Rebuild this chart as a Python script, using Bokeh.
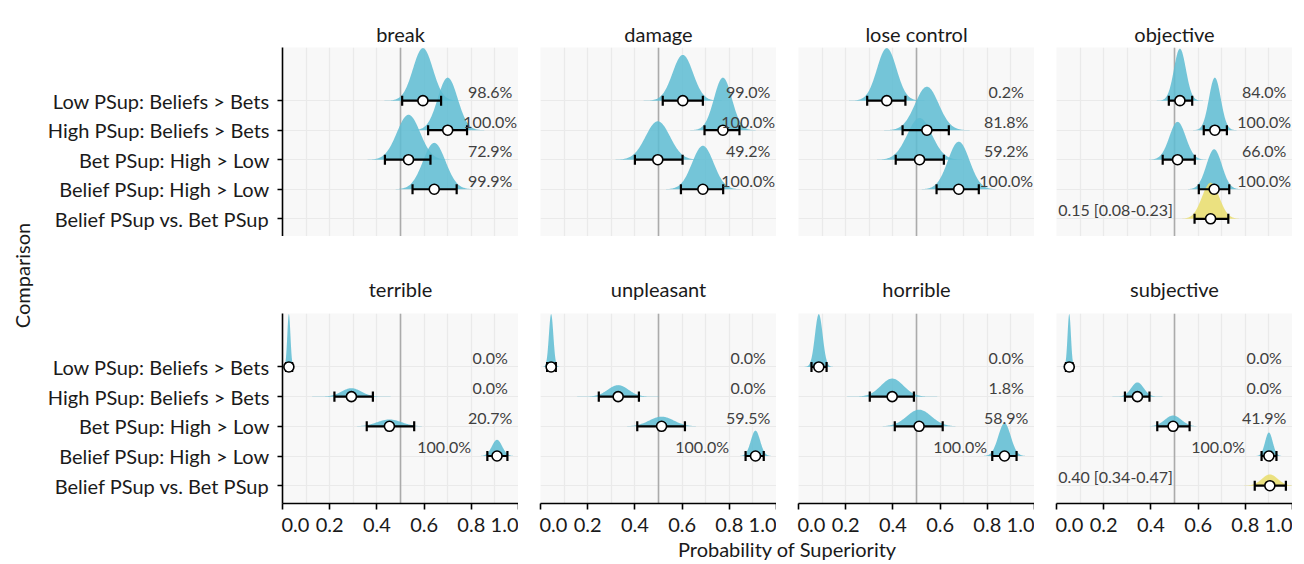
import numpy as np
from bokeh.plotting import figure
from bokeh.layouts import gridplot, row, column
from bokeh.models import Range1d, FixedTicker, Span, Label
from bokeh.core.properties import value
from bokeh.embed import file_html
from bokeh.resources import INLINE

# ---------------- data ----------------
panels = ["break", "damage", "lose control", "objective",
          "terrible", "unpleasant", "horrible", "subjective"]
comparisons = ["Low PSup: Beliefs > Bets", "High PSup: Beliefs > Bets",
               "Bet PSup: High > Low", "Belief PSup: High > Low",
               "Belief PSup vs. Bet PSup"]
x_ticks = [0.0, 0.2, 0.4, 0.6, 0.8, 1.0]
x_tick_labels = ["0.0", "0.2", "0.4", "0.6", "0.8", "1.0"]

median = [
    [0.595, 0.700, 0.534, 0.643],
    [0.603, 0.773, 0.497, 0.688],
    [0.374, 0.544, 0.513, 0.679],
    [0.523, 0.671, 0.513, 0.668, 0.653],
    [0.027, 0.292, 0.453, 0.909],
    [0.045, 0.329, 0.513, 0.911],
    [0.086, 0.397, 0.511, 0.873],
    [0.054, 0.343, 0.494, 0.900, 0.904],
]
lower = [
    [0.507, 0.617, 0.434, 0.551],
    [0.518, 0.695, 0.400, 0.595],
    [0.291, 0.441, 0.412, 0.585],
    [0.476, 0.624, 0.450, 0.603, 0.585],
    [0.015, 0.220, 0.357, 0.868],
    [0.028, 0.247, 0.410, 0.869],
    [0.055, 0.302, 0.408, 0.821],
    [0.040, 0.290, 0.427, 0.869, 0.840],
]
upper = [
    [0.672, 0.782, 0.627, 0.738],
    [0.688, 0.843, 0.602, 0.774],
    [0.453, 0.637, 0.616, 0.764],
    [0.575, 0.722, 0.586, 0.732, 0.728],
    [0.041, 0.383, 0.558, 0.953],
    [0.065, 0.417, 0.612, 0.946],
    [0.119, 0.489, 0.611, 0.924],
    [0.068, 0.394, 0.564, 0.932, 0.972],
]
labels = [
    ["98.6%", "100.0%", "72.9%", "99.9%"],
    ["99.0%", "100.0%", "49.2%", "100.0%"],
    ["0.2%", "81.8%", "59.2%", "100.0%"],
    ["84.0%", "100.0%", "66.0%", "100.0%", "0.15 [0.08-0.23]"],
    ["0.0%", "0.0%", "20.7%", "100.0%"],
    ["0.0%", "0.0%", "59.5%", "100.0%"],
    ["0.0%", "1.8%", "58.9%", "100.0%"],
    ["0.0%", "0.0%", "41.9%", "100.0%", "0.40 [0.34-0.47]"],
]

# ---------------- styling ----------------
FONT = "Lato"
FS = "20px"
BLUE = "#5DBCD2"
YELLOW = "#E9DD6B"
PANEL_BG = "#F8F8F8"
GRID = "#EAEAEA"
TXT = "#1a1a1a"
n = len(comparisons)
ypos = [n - k for k in range(n)]          # top row of panel = first comparison
Y_LO, Y_HI, MAXH = 0.4, 6.8, 1.78
FW = 236
minor_x = [(a + b) / 2 for a, b in zip(x_ticks[:-1], x_ticks[1:])]

TOP_B, BOT_TOP_B, BOT_B = 47, 77, 31
FH_TOP, FH_BOT = 189, 190
LEFT_W, LEFT_PAD = 34, 8
COL0_B = 248

figs = []
for i, name in enumerate(panels):
    r, c = divmod(i, 4)
    p = figure(frame_width=FW, frame_height=FH_TOP if r == 0 else FH_BOT,
               x_range=Range1d(0, 1), y_range=Range1d(Y_LO, Y_HI),
               x_axis_location=None if r == 0 else "below",
               y_axis_location="left" if c == 0 else None,
               output_backend="svg", toolbar_location=None,
               min_border_left=COL0_B if c == 0 else 22, min_border_right=0,
               min_border_top=TOP_B if r == 0 else BOT_TOP_B,
               min_border_bottom=0 if r == 0 else BOT_B,
               background_fill_color=PANEL_BG, border_fill_color="white",
               outline_line_color=None, title=name)
    p.title.align = "center"
    p.title.text_font = FONT
    p.title.text_font_size = FS
    p.title.text_font_style = "normal"
    p.title.text_color = TXT
    p.title.standoff = 4 if r == 0 else 26

    # grids
    p.xgrid.ticker = FixedTicker(ticks=x_ticks, minor_ticks=minor_x)
    p.xgrid.grid_line_color = GRID
    p.xgrid.minor_grid_line_color = GRID
    p.xgrid.grid_line_width = 1.2
    p.xgrid.minor_grid_line_width = 1.2
    p.ygrid.ticker = FixedTicker(ticks=ypos)
    p.ygrid.grid_line_color = GRID
    p.ygrid.grid_line_width = 1.2

    p.add_layout(Span(location=0.5, dimension="height", line_color="#ABABAB",
                      line_width=1.6, level="underlay"))

    med, lo, hi, lab = median[i], lower[i], upper[i], labels[i]
    m = len(med)
    ys = ypos[:m]
    sds = [(h - l) / 3.92 for l, h in zip(lo, hi)]
    peak = max(1.0 / s for s in sds)
    for k in range(m):
        mu, sd = med[k], sds[k]
        xs = np.linspace(mu - 4 * sd, mu + 4 * sd, 161)
        dens = np.exp(-0.5 * ((xs - mu) / sd) ** 2) / sd
        top = ys[k] + MAXH * dens / peak
        p.varea(x=xs, y1=ys[k], y2=top,
                fill_color=YELLOW if k == 4 else BLUE, fill_alpha=0.85)

    cap = 0.17
    p.segment(x0=lo, y0=ys, x1=hi, y1=ys, line_color="black", line_width=2.2)
    p.segment(x0=lo, y0=[y - cap for y in ys], x1=lo, y1=[y + cap for y in ys],
              line_color="black", line_width=2.2)
    p.segment(x0=hi, y0=[y - cap for y in ys], x1=hi, y1=[y + cap for y in ys],
              line_color="black", line_width=2.2)
    p.scatter(x=med, y=ys, size=10, marker="circle", fill_color="white",
              line_color="black", line_width=1.6)

    lx = [0.25 if k == 4 else (0.685 if med[k] > 0.8 else 0.88) for k in range(m)]
    ly = [y + 0.31 for y in ys]
    p.text(x=lx, y=ly, text=lab, text_font=value(FONT), text_font_size="16px",
           text_color="#404040", text_align="center", text_baseline="middle")

    if c == 0:
        ay = p.yaxis[0]
        ay.ticker = FixedTicker(ticks=ypos)
        ay.major_label_overrides = {y: t for y, t in zip(ypos, comparisons)}
        ay.axis_line_color = "black"
        ay.axis_line_width = 1.6
        ay.major_tick_line_color = "black"
        ay.major_tick_line_width = 1.6
        ay.major_tick_out = 5
        ay.major_tick_in = 0
        ay.minor_tick_out = 0
        ay.minor_tick_in = 0
        ay.major_label_standoff = 8
        ay.major_label_text_font = FONT
        ay.major_label_text_font_size = FS
        ay.major_label_text_color = TXT
    if r == 1:
        ax = p.xaxis[0]
        label_pos = [x_ticks[0] + 0.055] + x_ticks[1:-1] + [x_ticks[-1] - 0.055]
        ax.ticker = FixedTicker(ticks=label_pos, minor_ticks=x_ticks)
        ax.major_label_overrides = dict(zip(label_pos, x_tick_labels))
        ax.axis_line_color = "black"
        ax.axis_line_width = 1.6
        ax.major_tick_out = 0
        ax.major_tick_in = 0
        ax.minor_tick_out = 6
        ax.minor_tick_in = 0
        ax.minor_tick_line_color = "black"
        ax.minor_tick_line_width = 1.6
        ax.major_label_standoff = 8
        ax.major_label_text_font = FONT
        ax.major_label_text_font_size = FS
        ax.major_label_text_color = TXT
    figs.append(p)

grid_h = TOP_B + FH_TOP + BOT_TOP_B + FH_BOT + BOT_B

left = figure(width=LEFT_W, height=grid_h, x_range=Range1d(0, 1), y_range=Range1d(0, 1),
              x_axis_type=None, y_axis_type=None, output_backend="svg",
              toolbar_location=None, min_border_left=LEFT_PAD, min_border_right=0,
              min_border_top=TOP_B, min_border_bottom=BOT_B,
              outline_line_color=None, background_fill_color="white",
              border_fill_color="white")
left.add_layout(Label(x=0.5, y=0.5, text="Comparison", angle=np.pi / 2,
                      text_align="center", text_baseline="middle",
                      text_font=FONT, text_font_size=FS, text_color=TXT))

total_w = LEFT_W + COL0_B + FW + 3 * (22 + FW)
xlab = figure(width=total_w, height=563 - grid_h, x_range=Range1d(0, 1),
              y_range=Range1d(0, 1), x_axis_type=None, y_axis_type=None,
              output_backend="svg", toolbar_location=None,
              min_border_left=LEFT_W + COL0_B, min_border_right=0,
              min_border_top=0, min_border_bottom=0, outline_line_color=None,
              background_fill_color="white", border_fill_color="white")
xlab.add_layout(Label(x=0.5, y=0.5, text="Probability of Superiority",
                      text_align="center", text_baseline="middle",
                      text_font=FONT, text_font_size=FS, text_color=TXT))

grid = gridplot([figs[:4], figs[4:]], toolbar_location=None)
layout = column(row(left, grid), xlab)

open("out.html", "w").write(file_html(layout, INLINE))
